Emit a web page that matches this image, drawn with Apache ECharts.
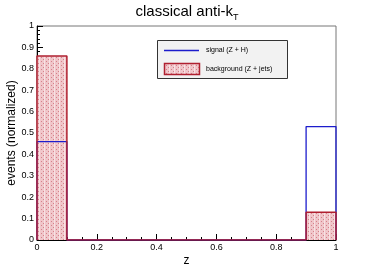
<!DOCTYPE html>
<html><head><meta charset="utf-8">
<script src="https://cdn.jsdelivr.net/npm/echarts@6/dist/echarts.min.js"></script>
<style>html,body{margin:0;padding:0;background:#fff}#c{width:374px;height:267px}</style>
</head><body><div id="c"></div>
<script>
const binEdges = [0,0.1,0.2,0.3,0.4,0.5,0.6,0.7,0.8,0.9,1.0];
const signalValues = [0.46,0,0,0,0,0,0,0,0,0.53];
const backgroundValues = [0.86,0,0,0,0,0,0,0,0,0.13];
const xTicks = [0,0.2,0.4,0.6,0.8,1];
const yTicks = [0,0.1,0.2,0.3,0.4,0.5,0.6,0.7,0.8,0.9,1];

function outline(vals){
  const pts=[[binEdges[0],0]];
  vals.forEach((v,i)=>{pts.push([binEdges[i],v]);pts.push([binEdges[i+1],v]);});
  pts.push([binEdges[binEdges.length-1],0]);
  return pts;
}
// hatch pattern
const pc=document.createElement('canvas');pc.width=5;pc.height=4;
const g=pc.getContext('2d');
g.fillStyle='#f0c6ca';g.fillRect(0,0,5,4);
g.fillStyle='#f8e2e4';g.fillRect(4,0,1,4);
g.fillStyle='#d6808a';g.fillRect(1,1,1,1);g.fillRect(3,3,1,1);

const chart=echarts.init(document.getElementById('c'),null,{renderer:'canvas'});
const fs='Liberation Sans, Arial, sans-serif';
chart.setOption({
  animation:false,
  title:{text:'{a|classical anti-k}{s|T}',left:'center',top:-4,
    textStyle:{rich:{a:{fontSize:15,fontWeight:'normal',fontFamily:fs,color:'#000'},s:{fontSize:9,fontWeight:'normal',fontFamily:fs,color:'#000',verticalAlign:'bottom',padding:[12,0,0,0]}}}},
  grid:{left:37,right:38,top:26,bottom:27,outerBoundsMode:'none',containLabel:false,show:true,borderColor:'#777',borderWidth:1,backgroundColor:'transparent'},
  xAxis:{type:'value',min:0,max:1,interval:0.2,name:'z',nameLocation:'middle',nameGap:15,nameMoveOverlap:false,
    nameTextStyle:{fontSize:12,fontFamily:fs,color:'#000'},
    axisLine:{lineStyle:{color:'#000',width:1}},
    axisTick:{inside:true,length:6,lineStyle:{color:'#000'}},
    minorTick:{show:true,splitNumber:4,length:3,lineStyle:{color:'#000'}},
    splitLine:{show:false},
    axisLabel:{fontSize:9,fontFamily:fs,color:'#000',margin:3,formatter:v=>xTicks.includes(+v.toFixed(2))?String(+v.toFixed(2)):''}},
  yAxis:{type:'value',min:0,max:1,interval:0.1,name:'events (normalized)',nameLocation:'middle',nameGap:19,nameMoveOverlap:false,
    nameTextStyle:{fontSize:12,fontFamily:fs,color:'#000'},
    axisLine:{lineStyle:{color:'#000',width:1}},
    axisTick:{inside:true,length:6,lineStyle:{color:'#000'}},
    minorTick:{show:true,splitNumber:5,length:3,lineStyle:{color:'#000'}},
    splitLine:{show:false},
    axisLabel:{fontSize:9,fontFamily:fs,color:'#000',margin:3,formatter:v=>String(+v.toFixed(2))}},
  series:[
    {type:'custom',z:1,data:backgroundValues.map((v,i)=>[binEdges[i],binEdges[i+1],v]),
      renderItem:(p,api)=>{
        const a=api.coord([api.value(0),api.value(2)]),b=api.coord([api.value(1),0]);
        return {type:'rect',shape:{x:a[0],y:a[1],width:b[0]-a[0],height:b[1]-a[1]},style:{fill:{image:pc,repeat:'repeat'}}};
      }},
    {type:'line',z:2,data:outline(signalValues),showSymbol:false,lineStyle:{color:'#1c1ccc',width:1.3}},
    {type:'line',z:3,data:outline(backgroundValues),showSymbol:false,lineStyle:{color:'#b02030',width:1.5}}
  ],
  graphic:[
    {type:'rect',shape:{x:157.5,y:40.5,width:130,height:38},style:{fill:'#f2f2f2',stroke:'#333',lineWidth:1},z:10},
    {type:'line',shape:{x1:164,y1:50.5,x2:199,y2:50.5},style:{stroke:'#1c1ccc',lineWidth:1.3},z:11},
    {type:'text',x:206,y:50.5,style:{text:'signal (Z + H)',fontSize:7,fontFamily:fs,fill:'#000',verticalAlign:'middle'},z:11},
    {type:'rect',shape:{x:164.5,y:63.5,width:35,height:11},style:{fill:{image:pc,repeat:'repeat'},stroke:'#b02030',lineWidth:1.5},z:11},
    {type:'text',x:206,y:69,style:{text:'background (Z + jets)',fontSize:7,fontFamily:fs,fill:'#000',verticalAlign:'middle'},z:11}
  ]
});
</script></body></html>
